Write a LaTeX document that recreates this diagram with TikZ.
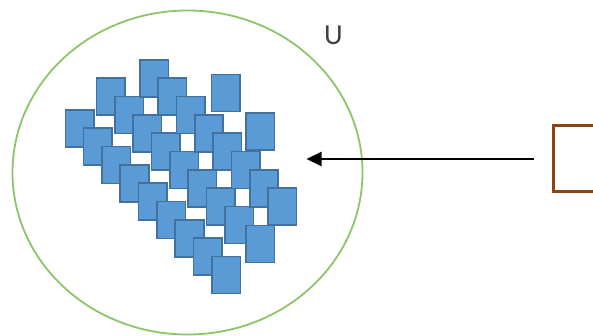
\documentclass[tikz,border=0pt]{standalone}
\usepackage{fontspec}
\setmainfont{Carlito}
\usetikzlibrary{arrows.meta,shapes.geometric}
\definecolor{tilefill}{HTML}{5B9BD5}
\definecolor{tileline}{HTML}{41719C}
\definecolor{setline}{HTML}{8CC56A}
\definecolor{boxline}{HTML}{8B4513}
\definecolor{labelgray}{HTML}{404040}
\tikzset{
  tile/.style={draw=tileline, fill=tilefill, line width=1.6pt, inner sep=0pt,
    minimum width=28.5pt, minimum height=37pt, anchor=north west},
  setborder/.style={draw=setline, line width=1.8pt},
  srcbox/.style={draw=boxline, line width=3pt, inner sep=0pt,
    minimum width=70pt, minimum height=66pt, anchor=north west},
  pointer/.style={draw=black, line width=2pt, -{Triangle[length=15pt,width=14pt]}},
  setlabel/.style={text=labelgray, font=\fontsize{29}{29}\selectfont, inner sep=0pt}
}
\begin{document}
\begin{tikzpicture}[x=1pt,y=-1pt]
  \useasboundingbox (0,0) rectangle (593,336);
  % the set U
  \node[setborder, ellipse, minimum width=350pt, minimum height=324pt, inner sep=0pt] (set) at (187.5,172.5) {};
  \node[setlabel] (ulabel) at (333.5,35.5) {U};
  % diagonal runs of tiles
  \foreach \k in {0,...,8}
    \node[tile] (a\k) at ({64.5+18.33*\k},{109+18.33*\k}) {};
  \foreach \k in {0,...,7}
    \node[tile] (b\k) at ({95.7+18.33*\k},{77.5+18.33*\k}) {};
  \node[tile] (b8) at (245.3,224.7) {};
  \foreach \k in {0,...,7}
    \node[tile] (c\k) at ({139+18.33*\k},{59+18.33*\k}) {};
  % single tiles
  \node[tile] (d0) at (210.7,73.7) {};
  \node[tile] (d1) at (245.3,112.3) {};
  % source box and pointer
  \node[srcbox] (box) at (551.5,124) {};
  \coordinate (start) at (534,159);
  \coordinate (tip) at (306.5,159);
  \draw[pointer] (start) -- (tip);
\end{tikzpicture}
\end{document}
